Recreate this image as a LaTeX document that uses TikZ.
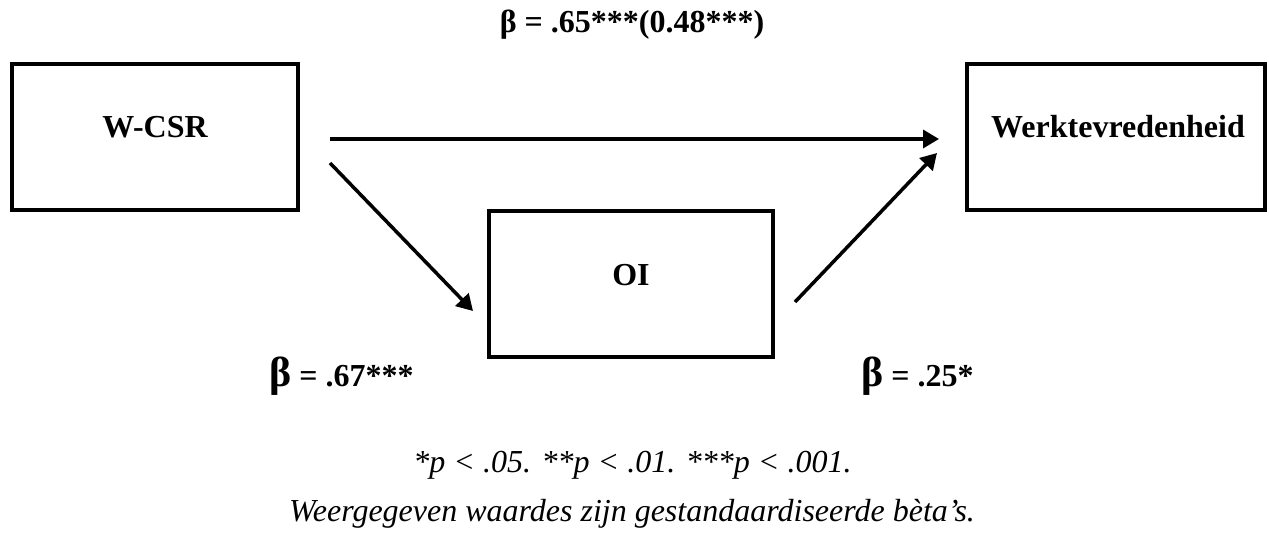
\documentclass[tikz,border=0pt]{standalone}
\usepackage{fontspec}
\setmainfont{Liberation Serif}
\usetikzlibrary{arrows.meta}
\tikzset{
  box/.style={draw,line width=4pt,inner sep=0pt},
  lbl/.style={font=\fontsize{32}{38}\selectfont\bfseries,inner sep=0pt},
  note/.style={font=\fontsize{32}{38}\selectfont\itshape,inner sep=0pt},
  arr/.style={line width=3.5pt,-{Triangle[length=16pt,width=18pt]}},
}
\newcommand{\bigbeta}{{\fontsize{42}{42}\selectfont β}}
\begin{document}
\begin{tikzpicture}[x=1pt,y=-1pt]
\useasboundingbox (0,0) rectangle (1269,534);
% boxes
\node[box,minimum width=286pt,minimum height=146pt] (wcsr) at (155,137.5) {};
\node[box,minimum width=298pt,minimum height=146pt] (wt) at (1116,137.5) {};
\node[box,minimum width=284pt,minimum height=146pt] (oi) at (631,284.5) {};
% box texts
\node[lbl,anchor=base] (twcsr) at (155,138) {W-CSR};
\node[lbl,anchor=base] (twt) at (1118,138) {Werktevredenheid};
\node[lbl,anchor=base] (toi) at (631,286) {OI};
% arrow end points
\coordinate (h1) at (330,139);
\coordinate (h2) at (939,139);
\coordinate (d1) at (330,163);
\coordinate (d2) at (473,311);
\coordinate (u1) at (795,302);
\coordinate (u2) at (937,153);
\draw[arr] (h1) -- (h2);
\draw[arr] (d1) -- (d2);
\draw[arr] (u1) -- (u2);
% coefficient labels
\node[lbl,anchor=base] (b1) at (632,33) {β = .65***(0.48***)};
\node[lbl,anchor=base west] (b2) at (269,387) {\bigbeta{} = .67***};
\node[lbl,anchor=base west] (b3) at (861,387) {\bigbeta{} = .25*};
% notes
\node[note,anchor=base] (n1) at (632.5,472) {*p < .05. **p < .01. ***p < .001.};
\node[note,anchor=base] (n2) at (632,521) {Weergegeven waardes zijn gestandaardiseerde bèta’s.};
\end{tikzpicture}
\end{document}
